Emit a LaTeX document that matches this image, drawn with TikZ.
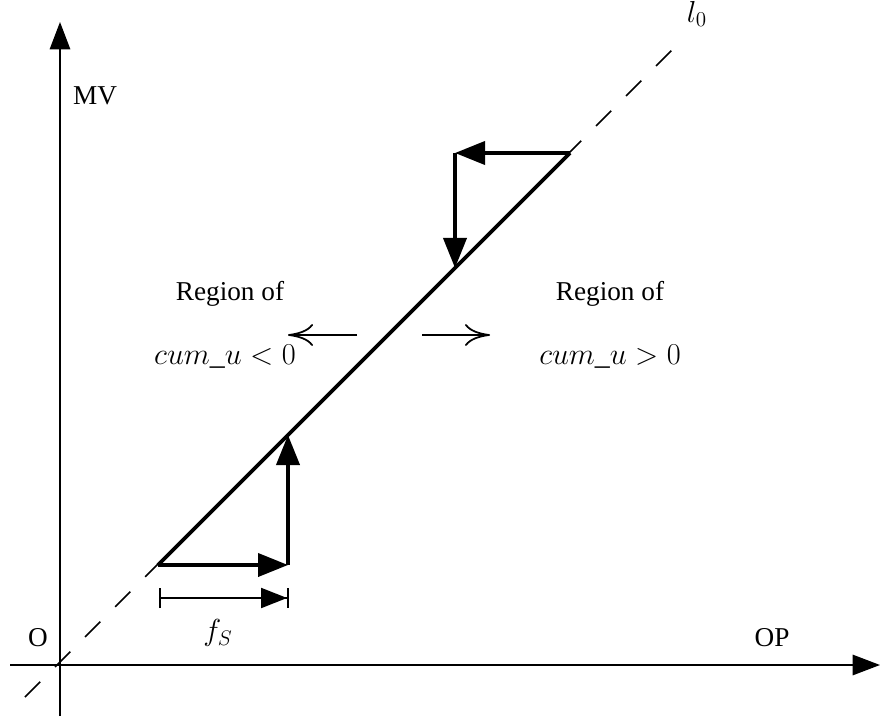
\documentclass[tikz,border=0pt]{standalone}
\usepackage[no-math]{fontspec}
\setmainfont{Liberation Serif}
\usetikzlibrary{arrows.meta}

\begin{document}
\begin{tikzpicture}[
  x=0.2mm, y=-0.2mm,
  every node/.style={font=\fontsize{15.5}{18}\selectfont},
  axis/.style={line width=1pt, -{Triangle[length=5.5mm, width=4.1mm]}},
  refline/.style={line width=1pt, dash pattern=on 4.3mm off 4.2mm},
  opline/.style={line width=2.2pt},
  move/.style={line width=2.2pt, -{Triangle[length=6mm, width=4.6mm]}},
  side/.style={line width=1pt, -{To[length=5mm, width=4.4mm, line width=1pt]}},
  mathlabel/.style={font=\fontsize{17}{20}\selectfont},
]
  \useasboundingbox (0,0) rectangle (880,720);

  % Axes
  \coordinate (O) at (60,665);
  \coordinate (xs) at (10,665);
  \coordinate (xe) at (880,665);
  \coordinate (ys) at (60,716);
  \coordinate (ye) at (60,22);
  \draw[axis] (xs) -- (xe);
  \draw[axis] (ys) -- (ye);
  \node (o) at (38,638) {O};
  \node (mv) at (95,96) {MV};
  \node (op) at (772,638) {OP};

  % Reference line l_0
  \coordinate (l0s) at (25,697);
  \coordinate (l0e) at (686,36);
  \draw[refline] (l0s) -- (l0e);
  \node[mathlabel] (l0) at (697,14) {$l_0$};

  % Operating segment on l_0
  \coordinate (p1) at (158,565);
  \coordinate (p2) at (288,565);
  \coordinate (p3) at (288,435);
  \coordinate (q1) at (570,153);
  \coordinate (q2) at (455,153);
  \coordinate (q3) at (455,268);
  \draw[opline] (p1) -- (q1);

  % Steps
  \draw[move] (p1) -- (p2);
  \draw[move] (p2) -- (p3);
  \draw[move] (q1) -- (q2);
  \draw[move] (q2) -- (q3);

  % Step size f_S
  \coordinate (f1) at (159,598);
  \coordinate (f2) at (289,598);
  \draw[line width=1.1pt, {Bar[width=4mm]}-{Triangle[length=5.2mm, width=4mm, sep=0pt]Bar[width=4mm]}] (f1) -- (f2);
  \node[mathlabel] (fs) at (218,633) {$f_S$};

  % Regions
  \node (rl) at (230,294) {Region of};
  \node[mathlabel] (cl) at (225,357) {$cum\_u<0$};
  \node (rr) at (610,294) {Region of};
  \node[mathlabel] (cr) at (610,357) {$cum\_u>0$};
  \coordinate (al1) at (357,335);
  \coordinate (al2) at (288,335);
  \coordinate (ar1) at (422,335);
  \coordinate (ar2) at (490,335);
  \draw[side] (al1) -- (al2);
  \draw[side] (ar1) -- (ar2);
\end{tikzpicture}
\end{document}
